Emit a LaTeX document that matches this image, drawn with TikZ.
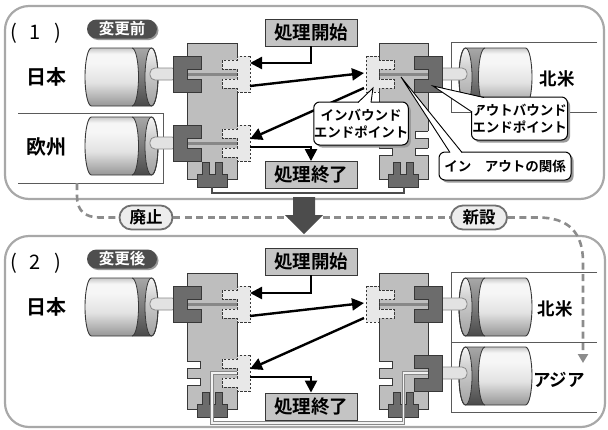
\documentclass[tikz,border=0pt]{standalone}
\usepackage{fontspec}
\setmainfont{Noto Sans CJK JP}[BoldFont={Noto Sans CJK JP Bold}]
\usetikzlibrary{arrows.meta,shadows}

\definecolor{panelline}{HTML}{A8A8A8}
\definecolor{blockfill}{HTML}{BEBEBE}
\definecolor{edgec}{HTML}{383838}
\definecolor{outfill}{HTML}{6C6C6C}
\definecolor{infill}{HTML}{E8E8E8}
\definecolor{rodc}{HTML}{888888}
\definecolor{procfill}{HTML}{C4C4C4}
\definecolor{dashc}{HTML}{8C8C8C}
\definecolor{pilldark}{HTML}{4E4E4E}
\definecolor{shadowc}{HTML}{9A9A9A}
\definecolor{framec}{HTML}{5A5A5A}
\definecolor{arrowc}{HTML}{4C4C4C}
\definecolor{cylT}{HTML}{C8C8C8}
\definecolor{cylL}{HTML}{F6F6F6}
\definecolor{cylM}{HTML}{E2E2E2}
\definecolor{cylD}{HTML}{969696}
\definecolor{bandT}{HTML}{A8A8A8}
\definecolor{bandM}{HTML}{7C7C7C}
\definecolor{bandD}{HTML}{4A4A4A}
\definecolor{faceT}{HTML}{D4D4D4}
\definecolor{faceD}{HTML}{A0A0A0}

\pgfdeclareverticalshading{cylbody}{100bp}{color(0bp)=(cylD); color(25bp)=(cylD); color(45bp)=(cylM); color(62bp)=(cylL); color(70bp)=(cylL); color(75bp)=(cylT); color(100bp)=(cylT)}
\pgfdeclareverticalshading{cylband}{100bp}{color(0bp)=(bandD); color(25bp)=(bandD); color(50bp)=(bandM); color(75bp)=(bandT); color(100bp)=(bandT)}
\pgfdeclareverticalshading{cylface}{100bp}{color(0bp)=(faceD); color(25bp)=(faceD); color(60bp)=(faceT); color(75bp)=(cylL); color(100bp)=(cylL)}

% database cylinder: anchor x, top y, direction (1: end face right, -1: end face left)
\newcommand\dbcyl[3]{%
  \begin{scope}[shift={(#1,#2)},xscale=#3]
    \shade[shading=cylbody] (6.5,0) -- (66.5,0) arc[start angle=-90,end angle=90,x radius=6.5,y radius=29] -- (6.5,58) arc[start angle=90,end angle=270,x radius=6.5,y radius=29] -- cycle;
    \shade[shading=cylband] (47,0) -- (66.5,0) arc[start angle=-90,end angle=90,x radius=6.5,y radius=29] -- (47,58) arc[start angle=90,end angle=-90,x radius=6.5,y radius=29] -- cycle;
    \shadedraw[shading=cylface,draw=edgec,line width=0.8pt] (66.5,29) ellipse[x radius=6.5,y radius=29];
    \draw[edgec,line width=0.8pt] (47,0) arc[start angle=-90,end angle=90,x radius=6.5,y radius=29];
    \draw[edgec,line width=0.9pt] (6.5,0) -- (66.5,0) arc[start angle=-90,end angle=90,x radius=6.5,y radius=29] -- (6.5,58) arc[start angle=90,end angle=270,x radius=6.5,y radius=29] -- cycle;
  \end{scope}}

% stub joining a cylinder to its plug: x from, x to, row y
\newcommand\cylrod[3]{\draw[cylrodstyle] (#1,{#3-6}) rectangle (#2,{#3+6});}

% outbound plug: body edge x, row y, outward side (-1 left, 1 right)
\newcommand\outplug[3]{%
  \draw[outstyle] ({#1+(#3)*14},{#2-18}) -- ({#1-(#3)*14},{#2-18}) -- ({#1-(#3)*14},{#2-5}) -- (#1,{#2-5}) -- (#1,{#2+5}) -- ({#1-(#3)*14},{#2+5}) -- ({#1-(#3)*14},{#2+18}) -- ({#1+(#3)*14},{#2+18}) -- cycle;}

% inbound plug (dashed outline)
\newcommand\inplug[3]{%
  \draw[instyle] ({#1+(#3)*13},{#2-18}) -- (#1,{#2-18}) -- (#1,{#2-14}) -- ({#1-(#3)*15},{#2-14}) -- ({#1-(#3)*15},{#2-5}) -- (#1,{#2-5}) -- (#1,{#2+5}) -- ({#1-(#3)*15},{#2+5}) -- ({#1-(#3)*15},{#2+14}) -- (#1,{#2+14}) -- (#1,{#2+18}) -- ({#1+(#3)*13},{#2+18}) -- cycle;}

% empty socket: two notches cut into the block edge
\newcommand\slotgap[3]{%
  \fill[white] ({#1+(#3)*1.5},{#2-12}) rectangle ({#1-(#3)*13},{#2-5});
  \fill[white] ({#1+(#3)*1.5},{#2+5}) rectangle ({#1-(#3)*13},{#2+12});
  \draw[gapline] (#1,{#2-12}) -- ({#1-(#3)*13},{#2-12}) -- ({#1-(#3)*13},{#2-5}) -- (#1,{#2-5});
  \draw[gapline] (#1,{#2+5}) -- ({#1-(#3)*13},{#2+5}) -- ({#1-(#3)*13},{#2+12}) -- (#1,{#2+12});}

% bottom port of a block: centre x, bottom y
\newcommand\portpiece[2]{%
  \draw[outstyle] ({#1-15},#2) -- ({#1-15},{#2-13}) -- ({#1-10},{#2-13}) -- ({#1-10},{#2-25}) -- ({#1-3},{#2-25}) -- ({#1-3},{#2-13}) -- ({#1+3},{#2-13}) -- ({#1+3},{#2-25}) -- ({#1+10},{#2-25}) -- ({#1+10},{#2-13}) -- ({#1+15},{#2-13}) -- ({#1+15},#2) -- cycle;}

\begin{document}
\begin{tikzpicture}[x=1pt,y=-1pt,
  panel/.style={draw=panelline,line width=2.2pt,rounded corners=24pt,fill=white},
  bodystyle/.style={draw=edgec,fill=blockfill,line width=0.9pt},
  outstyle/.style={draw=edgec,fill=outfill,line width=0.9pt},
  instyle/.style={draw=edgec,fill=infill,line width=0.8pt,dash pattern=on 2.5pt off 1.5pt},
  gapline/.style={draw=edgec,line width=0.9pt},
  rodstyle/.style={draw=rodc,line width=3pt},
  cylrodstyle/.style={draw=rodc,fill=cylM,line width=0.8pt,rounded corners=5pt},
  procbox/.style={draw=edgec,fill=procfill,line width=0.9pt,minimum width=92pt,minimum height=27pt,inner sep=0pt,font=\bfseries\fontsize{18.5}{18.5}\selectfont},
  flow/.style={draw=black,line width=2.4pt,-{Triangle[length=12pt,width=12pt]}},
  callout/.style={draw=black,fill=white,line width=1pt,rounded corners=6pt,inner sep=0pt,align=center,
    font=\bfseries\fontsize{13.5}{17.5}\selectfont,
    drop shadow={shadow xshift=2.5pt,shadow yshift=-2.5pt,fill=shadowc,opacity=1}},
  wedgeline/.style={draw=black,line width=0.9pt},
  dashline/.style={draw=dashc,line width=2.6pt,dash pattern=on 7pt off 4.5pt},
  framel/.style={draw=framec,line width=0.9pt},
  nametext/.style={font=\bfseries\fontsize{20}{20}\selectfont},
  nametextR/.style={font=\bfseries\fontsize{17.5}{17.5}\selectfont},
  numlabel/.style={font=\fontsize{20}{20}\selectfont,inner sep=0pt},
  darkpill/.style={fill=pilldark,text=white,rounded corners=9.5pt,minimum width=70pt,minimum height=19pt,inner sep=0pt,
    font=\bfseries\fontsize{15.5}{15.5}\selectfont,
    drop shadow={shadow xshift=1.5pt,shadow yshift=-1.5pt,fill=shadowc,opacity=1}},
  lightpill/.style={draw=arrowc!80,fill=white!93!black,line width=1.8pt,rounded corners=12pt,minimum height=24pt,inner sep=0pt,
    font=\bfseries\fontsize{16.5}{16.5}\selectfont},
  darklink/.style={draw=arrowc,line width=2pt},
  lightlinkA/.style={draw=rodc,line width=3.2pt},
  lightlinkB/.style={draw=white!95!black,line width=1.6pt}
]
\useasboundingbox (0,0) rectangle (608,429);

% ================= panel (1): before =================
\draw[panel] (5,6) rectangle (604,199);
\node[numlabel] (num1) at (35.5,33) {(\hspace{13pt}1\hspace{13pt})};
\node[darkpill] (before) at (122,29) {変更前};

\draw[framel] (18,113) -- (163,113) -- (163,183) -- (18,183);
\coordinate (eubot) at (77,183);
\draw[framel] (597,42) -- (451,42) -- (451,112) -- (597,112);

\node[nametext] (jp1) at (47,77) {日本};
\node[nametext] (eu1) at (46,147) {欧州};
\node[nametextR] (na1) at (557,79) {北米};

\dbcyl{85}{48}{1}
\dbcyl{85}{117}{1}
\dbcyl{532}{48}{-1}
\cylrod{150}{177}{74}
\cylrod{150}{177}{143}
\cylrod{437}{467}{74}

\draw[bodystyle] (187,43) rectangle (237,179);
\draw[bodystyle] (379,43) rectangle (428,179);
\draw[rodstyle] (187,74) -- (237,74);
\draw[rodstyle] (187,143) -- (237,143);
\draw[rodstyle] (379,74) -- (428,74);
\outplug{187}{74}{-1}
\inplug{237}{74}{1}
\outplug{187}{143}{-1}
\inplug{237}{143}{1}
\inplug{379}{74}{-1}
\outplug{428}{74}{1}
\slotgap{379}{143}{-1}
\slotgap{428}{143}{1}
\portpiece{212}{187}
\portpiece{403.5}{187}
\coordinate (portL1) at (212,187);
\coordinate (portR1) at (403.5,187);
\draw[darklink] (portL1) -- (212,193) -- (403.5,193) -- (portR1);

\node[procbox] (beg1) at (311,32.5) {処理開始};
\node[procbox] (fin1) at (311,175) {処理終了};

\coordinate (inLa1) at (250,63);
\coordinate (inLb1) at (250,86);
\coordinate (inRa1) at (364,73);
\coordinate (inRb1) at (364,88);
\coordinate (inLa2) at (250,139);
\coordinate (inLb2) at (250,147);
\draw[flow] (beg1.south) |- (inLa1);
\draw[flow] (inLb1) -- (inRa1);
\draw[flow] (inRb1) -- (inLa2);
\draw[flow] (inLb2) -| (fin1.north);

% callouts
\node[callout,minimum width=90pt,minimum height=43pt] (cin) at (361,123.5) {インバウンド\\エンドポイント};
\coordinate (cinTip) at (373,88);
\fill[white] (cinTip) -- (358,103) -- (371,103) -- cycle;
\draw[wedgeline] (358,102.5) -- (cinTip) -- (371,102.5);

\node[callout,minimum width=96pt,minimum height=43pt] (cout) at (519.5,118.5) {アウトバウンド\\エンドポイント};
\coordinate (coutTip) at (433,86);
\fill[white] (coutTip) -- (472.5,112) -- (484,98) -- cycle;
\draw[wedgeline] (472,112) -- (coutTip) -- (484,97.5);

\node[callout,minimum width=132pt,minimum height=28pt] (crel) at (505,166) {イン　アウトの関係};
\coordinate (crelTip) at (401,77);
\fill[white] (crelTip) -- (450,153) -- (462,153) -- cycle;
\draw[wedgeline] (450,152.5) -- (crelTip) -- (462,152.5);

% ================= panel (2): after =================
\draw[panel] (5,236) rectangle (605,427);
\node[numlabel] (num2) at (35.5,263) {(\hspace{13pt}2\hspace{13pt})};
\node[darkpill] (after) at (122,259) {変更後};

\draw[framel] (597,272) -- (451,272) -- (451,412) -- (597,412);
\draw[framel] (451,342) -- (597,342);

\node[nametext] (jp2) at (47,307) {日本};
\node[nametextR] (na2) at (555,309) {北米};
\node[nametextR] (as2) at (559,380) {アジア};

\dbcyl{85}{278}{1}
\dbcyl{532}{278}{-1}
\dbcyl{532}{347}{-1}
\cylrod{150}{177}{304}
\cylrod{437}{467}{304}
\cylrod{437}{467}{373}

\draw[bodystyle] (187,273) rectangle (237,409);
\draw[bodystyle] (379,273) rectangle (428,409);
\draw[rodstyle] (187,304) -- (237,304);
\draw[rodstyle] (379,304) -- (428,304);
\outplug{187}{304}{-1}
\inplug{237}{304}{1}
\slotgap{187}{373}{-1}
\inplug{237}{373}{1}
\inplug{379}{304}{-1}
\outplug{428}{304}{1}
\slotgap{379}{373}{-1}
\outplug{428}{373}{1}
\portpiece{212}{417}
\portpiece{403.5}{417}

\coordinate (inLc2) at (237,373);
\coordinate (outAs) at (428,373);
\draw[lightlinkA] (inLc2) -- (212,373) -- (212,423) -- (403.5,423) -- (403.5,373) -- (outAs);
\draw[lightlinkB] (inLc2) -- (212,373) -- (212,423) -- (403.5,423) -- (403.5,373) -- (outAs);

\node[procbox] (beg2) at (311,261.5) {処理開始};
\node[procbox] (fin2) at (311,406.5) {処理終了};

\coordinate (qLa1) at (250,293);
\coordinate (qLb1) at (250,316);
\coordinate (qRa1) at (364,303);
\coordinate (qRb1) at (364,318);
\coordinate (qLa2) at (250,369);
\coordinate (qLb2) at (250,377);
\draw[flow] (beg2.south) |- (qLa1);
\draw[flow] (qLb1) -- (qRa1);
\draw[flow] (qRb1) -- (qLa2);
\draw[flow] (qLb2) -| (fin2.north);

% ================= transition between the panels =================
\node[lightpill,minimum width=53pt] (abol) at (146,217.5) {廃止};
\node[lightpill,minimum width=56pt] (newp) at (479,217.5) {新設};
\coordinate (asiaIn) at (583,363);
\draw[dashline] (eubot) -- (77,196) .. controls (77,210) and (84,217.5) .. (100,217.5) -- (abol.west);
\draw[dashline] (abol.east) -- (newp.west);
\draw[dashline,-{Triangle[length=9pt,width=10pt]},dashc] (newp.east) -- (538,217.5) .. controls (568,217.5) and (583,232) .. (583,262) -- (asiaIn);

\fill[arrowc] (293,197) -- (315,197) -- (315,215) -- (323,215) -- (304,234) -- (285,215) -- (293,215) -- cycle;
\end{tikzpicture}
\end{document}
